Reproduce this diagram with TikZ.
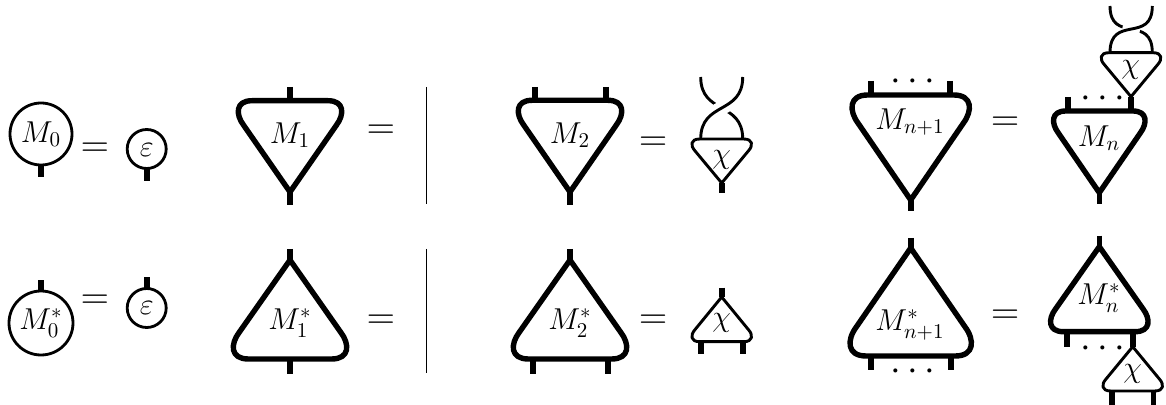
\documentclass[tikz,border=0pt]{standalone}
\usetikzlibrary{calc}
\begin{document}
\begin{tikzpicture}[x=0.5pt,y=-0.5pt,
  font=\Large,
  thickedge/.style={line width=2.7pt,line join=round},
  thinedge/.style={line width=1.45pt,line join=round},
  leg/.style={line width=2.8pt},
  braid/.style={line width=1.45pt},
  halo/.style={line width=7pt,white},
  rule/.style={line width=0.5pt},
  ring/.style={circle,draw,line width=1.4pt,inner sep=0pt,outer sep=0pt},
  lab/.style={inner sep=0pt,outer sep=0pt,scale=1.05},
  eq/.style={inner sep=0pt,scale=1.3},
  dots/.style={inner sep=0pt,scale=1.33}]
\useasboundingbox (0,0) rectangle (1166,405);
% #1 name, #2 style, #3 cx, #4 flat side y, #5 apex y, #6 half width
\newcommand{\rtri}[6]{%
  \pgfmathsetmacro{\hh}{#5-(#4)}%
  \coordinate (#1-apex) at (#3,#5);
  \draw[#2] (#3,#5)
    -- ({#3-0.89*#6},{#4+0.27*\hh})
    .. controls ({#3-1.05*#6},{#4+0.15*\hh}) and ({#3-1.05*#6},{#4}) .. ({#3-0.73*#6},{#4})
    -- ({#3+0.73*#6},{#4})
    .. controls ({#3+1.05*#6},{#4}) and ({#3+1.05*#6},{#4+0.15*\hh}) .. ({#3+0.89*#6},{#4+0.27*\hh})
    -- cycle;
}
% #1 x, #2 y from, #3 y to
\newcommand{\stub}[3]{\draw[leg] (#1,#2) -- (#1,#3);}
% #1 left x, #2 right x, #3 bottom y, #4 top y, #5 over-control bottom, #6 over-control top
\newcommand{\twist}[6]{%
  \draw[braid] (#1,#4) .. controls (#1,#5) and (#2,#6) .. (#2,#3);
  \begin{scope}
    \clip ($(#1,#3)!0.5!(#2,#4)$) circle[radius=4.5pt];
    \draw[halo] (#1,#3) .. controls (#1,#6) and (#2,#5) .. (#2,#4);
  \end{scope}
  \draw[braid] (#1,#3) .. controls (#1,#6) and (#2,#5) .. (#2,#4);
}

% column 1
\node[ring,minimum size=31pt] (m0) at (41,134) {};
\node[lab] (m0l) at (41,134) {$M_0$};
\coordinate (m0e) at (41,177); \draw[leg] (m0.south) -- (m0e);
\node[eq] (e1) at (95,150) {$=$};
\node[ring,minimum size=19.5pt] (ep1) at (146.7,149) {};
\node[lab] (ep1l) at (146.7,150) {$\varepsilon$};
\coordinate (ep1e) at (146.7,181); \draw[leg] (ep1.south) -- (ep1e);

\node[ring,minimum size=32pt] (m0s) at (41,323) {};
\node[lab] (m0sl) at (41,323) {$M_0^*$};
\coordinate (m0se) at (41,280); \draw[leg] (m0s.north) -- (m0se);
\node[eq] (e2) at (95,302) {$=$};
\node[ring,minimum size=19.5pt] (ep2) at (146.7,308) {};
\node[lab] (ep2l) at (146.7,308) {$\varepsilon$};
\coordinate (ep2e) at (146.7,277); \draw[leg] (ep2.north) -- (ep2e);

% M1
\stub{290}{87}{100.7}\stub{290}{192}{205}
\rtri{m1}{thickedge}{290}{100.7}{192}{52}
\node[lab] (m1l) at (290,135) {$M_1$};
\node[eq] (e3) at (381,132) {$=$};
\stub{290}{249}{260}\stub{290}{359}{374}
\rtri{m1s}{thickedge}{290}{359}{260}{57}
\node[lab] (m1sl) at (290,323) {$M_1^*$};
\node[eq] (e4) at (381,322) {$=$};

% rules
\draw[rule] (426.7,87) -- (426.7,204);
\draw[rule] (426.7,249) -- (426.7,373);

% M2
\stub{535}{87}{100.3}\stub{605.7}{87}{100.3}\stub{570}{192}{205}
\rtri{m2}{thickedge}{570}{100.3}{192}{52}
\node[lab] (m2l) at (570,135) {$M_2$};
\node[eq] (e5) at (653,144) {$=$};
\twist{700.7}{742.7}{139}{77}{115}{101}
\stub{721.7}{183}{193}
\rtri{c1}{thinedge}{721.7}{139}{183}{30}
\node[lab] (c1l) at (721.7,160) {$\chi$};

\stub{570}{249}{260}\stub{532.7}{359}{374}\stub{608}{359}{374}
\rtri{m2s}{thickedge}{570}{359}{260}{57}
\node[lab] (m2sl) at (570,323) {$M_2^*$};
\node[eq] (e6) at (653,322) {$=$};
\stub{721.7}{287.7}{297}\stub{700.7}{341.7}{354}\stub{742.7}{341.7}{354}
\rtri{c2}{thinedge}{721.7}{341.7}{297}{30}
\node[lab] (c2l) at (721.7,323) {$\chi$};

% Mn+1
\stub{871}{81}{95}\stub{950}{81}{95}\stub{910.7}{200}{211}
\rtri{mn1}{thickedge}{910.7}{95}{200}{59}
\node[dots] (d1) at (910,81) {$\mathstrut\cdots$};
\node[lab] (mn1l) at (910,122) {$M_{n+1}$};
\node[eq] (e7) at (1005,124) {$=$};
\stub{1068}{97}{111}\stub{1131}{96.7}{111}\stub{1099.3}{192.7}{204}
\rtri{mn}{thickedge}{1099.3}{111}{192.7}{46}
\node[dots] (d2) at (1100,98) {$\mathstrut\cdots$};
\node[lab] (mnl) at (1099,138) {$M_n$};
\twist{1110}{1152.3}{52.7}{6}{44}{14}
\rtri{c3}{thinedge}{1131}{52.7}{96.7}{30}
\node[lab] (c3l) at (1130.7,70) {$\chi$};

% M*n+1
\stub{910.7}{238}{248}\stub{870.7}{356}{369.7}\stub{950.7}{356}{369.7}
\rtri{mn1s}{thickedge}{910.7}{356}{248}{61}
\node[dots] (d3) at (910,371) {$\mathstrut\cdots$};
\node[lab] (mn1sl) at (910,325) {$M_{n+1}^*$};
\node[eq] (e8) at (1005,316.7) {$=$};
\stub{1099.3}{235.7}{246.7}\stub{1066.7}{331.7}{346.7}\stub{1132.7}{331.7}{346.7}
\rtri{mns}{thickedge}{1099.3}{331.7}{246.7}{49}
\node[dots] (d4) at (1100,347.7) {$\mathstrut\cdots$};
\node[lab] (mnsl) at (1099,298) {$M_n^*$};
\stub{1111.7}{391}{405}\stub{1153.3}{391}{405}
\rtri{c4}{thinedge}{1132.7}{391}{346.7}{30}
\node[lab] (c4l) at (1132.7,374) {$\chi$};
\end{tikzpicture}
\end{document}
